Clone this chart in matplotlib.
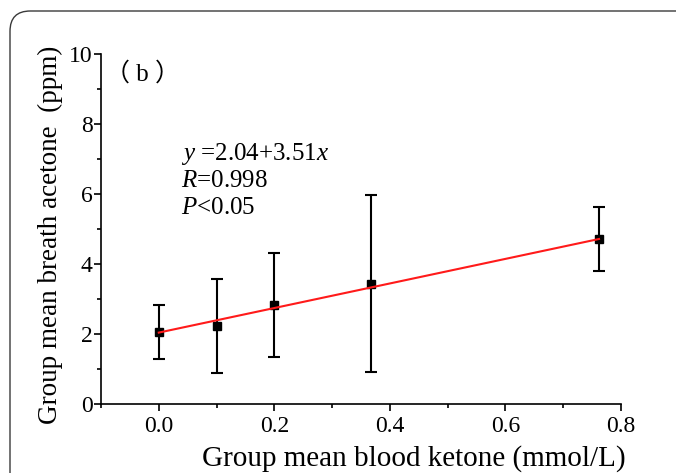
"""Breath acetone vs blood ketone group means, with linear fit."""
import matplotlib
matplotlib.use("Agg")
import matplotlib.pyplot as plt
from matplotlib.patches import FancyBboxPatch
from matplotlib.ticker import MultipleLocator

plt.rcParams["font.family"] = ["Liberation Serif", "Noto Sans CJK SC", "DejaVu Sans"]
plt.rcParams["mathtext.fontset"] = "custom"
plt.rcParams["mathtext.it"] = "Liberation Serif:italic"
plt.rcParams["mathtext.rm"] = "Liberation Serif"

# group means
blood_ketone = [0.0, 0.10, 0.20, 0.367, 0.762]
breath_acetone = [2.05, 2.23, 2.82, 3.44, 4.71]
acetone_sd = [0.77, 1.35, 1.49, 2.54, 0.92]

# fit reported on the chart
intercept, slope = 2.04, 3.51
fit_x = [0.0, 0.762]

fig = plt.figure(figsize=(6.76, 4.73), dpi=100)
ax = fig.add_axes([0.1494, 0.1459, 0.7692, 0.7399])

# rounded panel frame that runs off the right/bottom edges
frame = FancyBboxPatch((10 / 676, -0.2), 1.2, (473 - 11) / 473 + 0.2,
                       boxstyle="round,pad=0,rounding_size=0.03",
                       transform=fig.transFigure, fill=False,
                       ec="#3a3a3a", lw=1.0, mutation_aspect=676 / 473)
fig.patches.append(frame)

ax.plot(fit_x, [intercept + slope * v for v in fit_x], color="#ff1a1a", lw=1.5, zorder=3)
ax.errorbar(blood_ketone, breath_acetone, yerr=acetone_sd, fmt="s", color="black",
            ms=6, elinewidth=1.5, capsize=4, capthick=1.5, zorder=2)

ax.set_xlim(-0.1, 0.8)
ax.set_ylim(0, 10)
ax.xaxis.set_minor_locator(MultipleLocator(0.1))
ax.yaxis.set_major_locator(MultipleLocator(2))
ax.yaxis.set_minor_locator(MultipleLocator(1))
ax.set_xticks([0.0, 0.2, 0.4, 0.6, 0.8])
ax.set_xticklabels(["0.0", "0.2", "0.4", "0.6", "0.8"])
for s in ("top", "right"):
    ax.spines[s].set_visible(False)
for s in ("left", "bottom"):
    ax.spines[s].set_linewidth(1.2)
ax.tick_params(which="major", direction="out", length=5, width=1.2, labelsize=17)
ax.tick_params(axis="y", which="major", pad=1)
ax.tick_params(axis="x", which="major", pad=4)
ax.tick_params(which="minor", direction="out", length=3, width=1.2)

fig.text(414 / 676, 1 - 459 / 473, "Group mean blood ketone (mmol/L)", ha="center",
         va="center", fontsize=21)
fig.text(50 / 676, 1 - 235 / 473, "Group mean breath acetone  (ppm)", ha="center",
         va="center", rotation=90, fontsize=19.5)

fig.text(105 / 676, 1 - 74 / 473, "（ b ）", ha="left", va="center", fontsize=18)
eq_lines = ["$y$ =2.04+3.51$x$", "$R$=0.998", "$P$<0.05"]
for i, t in enumerate(eq_lines):
    fig.text(181 / 676, 1 - (154 + 27 * i) / 473, t, ha="left", va="center", fontsize=18)

fig.savefig("out.png", dpi=100)
